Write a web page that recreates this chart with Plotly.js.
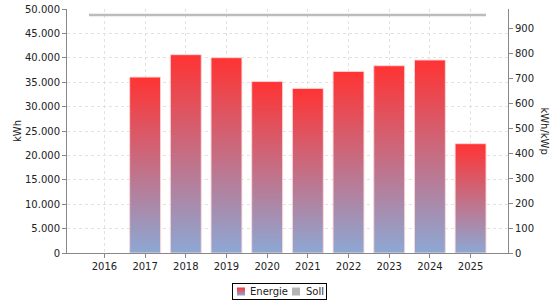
<!DOCTYPE html>
<html>
<head>
<meta charset="utf-8">
<script src="https://cdn.plot.ly/plotly-3.0.1.min.js"></script>
<style>
  html, body { margin: 0; padding: 0; background: #fff; }
  #chart { width: 560px; height: 300px; }
</style>
</head>
<body>
<div id="chart"></div>
<script>
// ---- data ----
const years = ['2016', '2017', '2018', '2019', '2020', '2021', '2022', '2023', '2024', '2025'];
const energie = [null, 36050, 40640, 40020, 35130, 33730, 37210, 38380, 39550, 22400]; // kWh
const soll = [952, 952, 952, 952, 952, 952, 952, 952, 952, 952]; // kWh/kWp

// ---- styling constants ----
const BAR_HALF = 0.38;
const XRANGE = [-0.92, 9.92];
const FONT = 'DejaVu Sans, sans-serif';
const FS = 10;

// Soll drawn as a horizontal segment over each category's bar width
const sollX = [], sollY = [];
years.forEach((y, i) => {
  sollX.push(i - BAR_HALF, i + BAR_HALF);
  sollY.push(soll[i], soll[i]);
});

const traces = [
  {
    type: 'bar', name: 'Energie', x: years, y: energie,
    marker: { color: '#f04050', line: { color: 'rgba(255,215,215,0.9)', width: 1 } },
    hoverinfo: 'x+y'
  },
  {
    type: 'bar', name: 'Soll', x: [null], y: [null],
    marker: { color: '#b4b4b4' }, showlegend: true
  },
  {
    type: 'scatter', mode: 'lines', x: sollX, y: sollY,
    xaxis: 'x2', yaxis: 'y2', showlegend: false,
    line: { color: '#bcbcbc', width: 2.5 }
  }
];

const axisCommon = {
  showline: true, linecolor: '#888', linewidth: 1,
  ticks: 'outside', ticklen: 4, tickcolor: '#888',
  tickfont: { family: FONT, size: FS, color: '#222' },
  zeroline: false
};

const layout = {
  width: 560, height: 300,
  margin: { l: 67, r: 52, t: 9, b: 47, pad: 0, autoexpand: false },
  paper_bgcolor: '#fff', plot_bgcolor: '#fff',
  separators: ',.',
  barmode: 'overlay', bargap: 0.24,
  font: { family: FONT, size: FS, color: '#222' },
  showlegend: true,
  legend: {
    orientation: 'h', x: 0.5, xanchor: 'center', xref: 'container',
    y: 0.003, yanchor: 'bottom', yref: 'container',
    bordercolor: '#000', borderwidth: 1,
    font: { family: FONT, size: FS, color: '#222' },
    itemwidth: 30, tracegroupgap: 0
  },
  xaxis: Object.assign({}, axisCommon, {
    type: 'category', range: XRANGE,
    showgrid: true, gridcolor: '#e2e2e2', griddash: '3px,3px', gridwidth: 1
  }),
  xaxis2: { overlaying: 'x', type: 'linear', range: XRANGE, visible: false },
  yaxis: Object.assign({}, axisCommon, {
    range: [0, 50000], dtick: 5000, tickformat: ',d',
    showgrid: true, gridcolor: '#e2e2e2', griddash: '3px,3px', gridwidth: 1,
    title: { text: 'kWh', font: { family: FONT, size: FS, color: '#222' }, standoff: 1 }
  }),
  yaxis2: Object.assign({}, axisCommon, {
    overlaying: 'y', side: 'right', range: [0, 976], dtick: 100,
    showgrid: false
  }),
  annotations: [{
    text: 'kWh/kWp', xref: 'paper', yref: 'paper', x: 1.083, y: 0.5,
    xanchor: 'center', yanchor: 'middle', textangle: 90, showarrow: false,
    font: { family: FONT, size: FS, color: '#222' }
  }]
};

Plotly.newPlot('chart', traces, layout, { displayModeBar: false, staticPlot: true }).then(gd => {
  const NS = 'http://www.w3.org/2000/svg';
  const svg = gd.querySelector('.main-svg');
  let defs = svg.querySelector('defs');
  if (!defs) { defs = document.createElementNS(NS, 'defs'); svg.insertBefore(defs, svg.firstChild); }
  const grad = document.createElementNS(NS, 'linearGradient');
  grad.setAttribute('id', 'energieGrad');
  grad.setAttribute('x1', '0'); grad.setAttribute('y1', '0');
  grad.setAttribute('x2', '0'); grad.setAttribute('y2', '1');
  [['0', 'rgb(255,51,51)'], ['1', 'rgb(140,168,212)']].forEach(([o, c]) => {
    const s = document.createElementNS(NS, 'stop');
    s.setAttribute('offset', o); s.setAttribute('stop-color', c);
    grad.appendChild(s);
  });
  defs.appendChild(grad);
  const barTraces = gd.querySelectorAll('.barlayer .trace');
  if (barTraces[0]) barTraces[0].querySelectorAll('path').forEach(p => p.style.setProperty('fill', 'url(#energieGrad)'));

  // compact legend box like the original
  const leg = gd.querySelector('.legend');
  if (leg) {
    leg.setAttribute('transform', 'translate(232,283)');
    const bg = leg.querySelector('rect.bg');
    if (bg) { bg.setAttribute('x', 0.5); bg.setAttribute('y', 0.5); bg.setAttribute('width', 94); bg.setAttribute('height', 16); }
    const sb = leg.querySelector('.scrollbox');
    if (sb) { sb.setAttribute('transform', 'translate(0,0)'); sb.removeAttribute('clip-path'); }
    const tr = leg.querySelectorAll('.traces');
    const itemX = [0, 55];
    const swX = [9, 9];
    const txX = [18, 19];
    tr.forEach((t, i) => {
      t.setAttribute('transform', `translate(${itemX[i] || 0},8.5)`);
      t.querySelectorAll('.legendpoints path').forEach(p => {
        p.setAttribute('d', 'M4,4H-4V-4H4Z');
        p.setAttribute('transform', `translate(${swX[i]},0)`);
        if (i === 0) p.style.setProperty('fill', 'url(#energieGrad)');
        p.style.setProperty('stroke-width', '0');
      });
      const tx = t.querySelector('text.legendtext');
      if (tx) tx.setAttribute('x', txX[i]);
    });
  }
});
</script>
</body>
</html>
